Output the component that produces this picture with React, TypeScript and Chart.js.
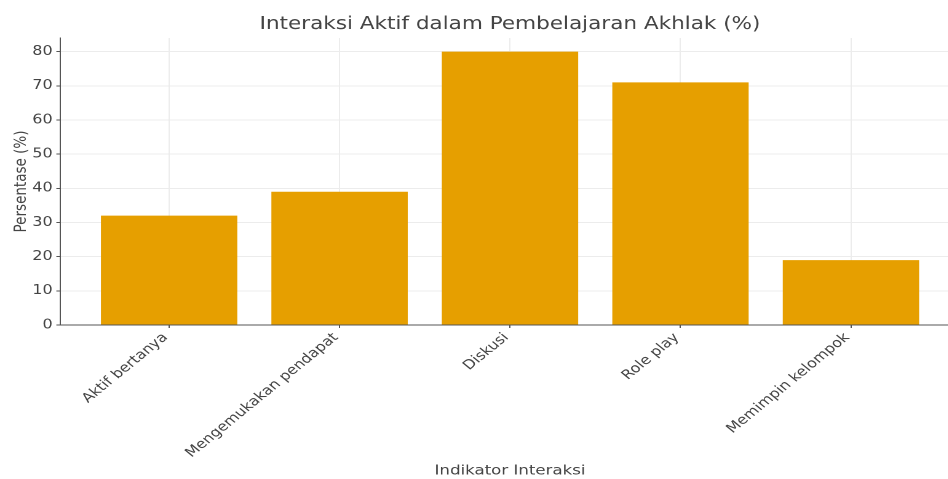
import React, { useEffect, useRef } from "react";
import { Chart, registerables } from "chart.js";

Chart.register(...registerables);

const categories = [
  "Aktif bertanya",
  "Mengemukakan pendapat",
  "Diskusi",
  "Role play",
  "Memimpin kelompok",
];
const values = [32, 39, 80, 71, 19];
const yTicks = [0, 10, 20, 30, 40, 50, 60, 70, 80];
const chartTitle = "Interaksi Aktif dalam Pembelajaran Akhlak (%)";
const xTitle = "Indikator Interaksi";
const yTitle = "Persentase (%)";

const FONT = "'DejaVu Sans', sans-serif";
const STRETCH = 1.23;
const LOGICAL_W = 800;
const H = 479;

export default function App() {
  const ref = useRef<HTMLCanvasElement | null>(null);

  useEffect(() => {
    if (!ref.current) return;
    const chart = new Chart(ref.current, {
      type: "bar",
      data: {
        datasets: [
          {
            data: values.map((v, i) => ({ x: i, y: v })),
            backgroundColor: "#E69F00",
            borderWidth: 0,
            categoryPercentage: 1,
            barPercentage: 0.8,
          },
        ],
      },
      options: {
        animation: false,
        responsive: false,
        maintainAspectRatio: false,
        devicePixelRatio: 2,
        layout: { padding: { left: 0, right: 19.5, top: 0, bottom: 0 } },
        plugins: {
          legend: { display: false },
          tooltip: { enabled: false },
          title: {
            display: true,
            text: chartTitle,
            fullSize: false,
            color: "#444",
            font: { family: FONT, size: 17.5, weight: "normal" },
            padding: { top: 14, bottom: 3 },
          },
        },
        scales: {
          x: {
            type: "linear",
            offset: false,
            min: -0.64,
            max: 4.64,
            afterBuildTicks: (scale: any) => {
              scale.ticks = categories.map((_, i) => ({ value: i }));
            },
            afterFit: (scale: any) => {
              scale.height = H - 325;
            },
            ticks: {
              autoSkip: false,
              minRotation: 45,
              maxRotation: 45,
              padding: 2,
              labelOffset: -3,
              color: "#444",
              font: { family: FONT, size: 13 },
              callback: (v: any) => categories[v as number] ?? "",
            },
            grid: {
              offset: false,
              color: "#ececec",
              drawTicks: true,
              tickLength: 3,
              tickColor: "#555",
            },
            border: { display: true, color: "#555", width: 1 },
            title: {
              display: true,
              text: xTitle,
              color: "#444",
              font: { family: FONT, size: 13.5 },
              padding: { top: 0, bottom: 0 },
            },
          },
          y: {
            min: 0,
            max: 84,
            afterBuildTicks: (scale: any) => {
              scale.ticks = yTicks.map((v) => ({ value: v }));
            },
            afterFit: (scale: any) => {
              scale.width = 60 / STRETCH;
            },
            ticks: {
              padding: 3,
              color: "#444",
              font: { family: FONT, size: 13 },
            },
            grid: {
              color: "#ececec",
              drawTicks: true,
              tickLength: 3,
              tickColor: "#555",
            },
            border: { display: true, color: "#555", width: 1 },
            title: {
              display: true,
              text: yTitle,
              color: "#444",
              font: { family: FONT, size: 13.5 },
              padding: { top: 9.5, bottom: 0 },
            },
          },
        },
      },
    });
    return () => chart.destroy();
  }, []);

  return (
    <div
      style={{
        position: "absolute",
        left: 0,
        top: 0,
        width: 948,
        height: H,
        overflow: "hidden",
        background: "#fff",
      }}
    >
      <canvas
        ref={ref}
        width={LOGICAL_W}
        height={H}
        style={{
          display: "block",
          transform: `scaleX(${STRETCH})`,
          transformOrigin: "0 0",
        }}
      />
    </div>
  );
}
